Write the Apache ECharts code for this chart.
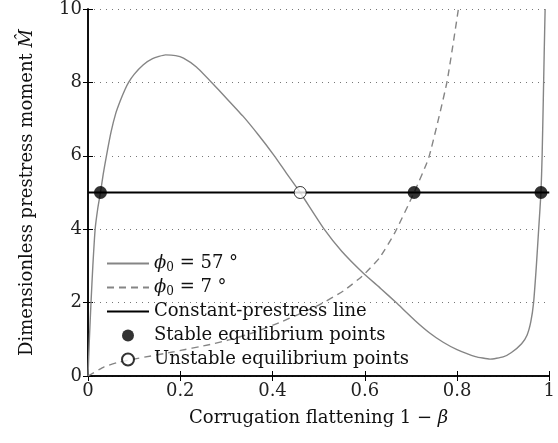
<!DOCTYPE html>
<html>
<head>
<meta charset="utf-8">
<script src="https://cdn.jsdelivr.net/npm/echarts@6/dist/echarts.min.js"></script>
<style>
	html, body { margin: 0; padding: 0; background: #fff; }
	#chart { width: 558px; height: 443px; }
</style>
</head>
<body>
<div id="chart"></div>
<script>
// phi0 = 57 deg curve
var solidX = [0, 0.003, 0.0065, 0.0105, 0.0155, 0.021, 0.027, 0.033, 0.040, 0.050, 0.060, 0.070, 0.080, 0.088, 0.100, 0.120, 0.140, 0.168, 0.190, 0.207, 0.235, 0.268, 0.300, 0.336, 0.370, 0.404, 0.430, 0.460, 0.512, 0.550, 0.597, 0.635, 0.668, 0.710, 0.740, 0.770, 0.800, 0.840, 0.8715, 0.900, 0.918, 0.940, 0.952, 0.960, 0.966, 0.972, 0.977, 0.982, 0.9845, 0.987, 0.989, 0.991];
var solidY = [0, 1, 2, 3, 4, 4.55, 5.0, 5.5, 6.0, 6.65, 7.15, 7.5, 7.8, 8.0, 8.22, 8.48, 8.65, 8.75, 8.73, 8.66, 8.42, 8.0, 7.57, 7.08, 6.56, 6.0, 5.53, 5.0, 4.0, 3.4, 2.8, 2.38, 2.0, 1.5, 1.18, 0.92, 0.72, 0.53, 0.46, 0.52, 0.64, 0.88, 1.12, 1.48, 2.0, 3.0, 4.0, 5.0, 6.0, 7.5, 8.8, 10];

// phi0 = 7 deg curve
var dashX = [0, 0.035, 0.065, 0.108, 0.186, 0.265, 0.308, 0.358, 0.420, 0.500, 0.554, 0.597, 0.632, 0.665, 0.707, 0.739, 0.778, 0.803];
var dashY = [0, 0.25, 0.37, 0.48, 0.66, 0.86, 0.99, 1.18, 1.48, 1.93, 2.32, 2.75, 3.22, 3.9, 5.0, 5.96, 8.0, 10];

// constant prestress
var constX = [0, 1];
var constY = [5, 5];

// equilibrium points
var stableX = [0.027, 0.707, 0.982];
var stableY = [5, 5, 5];
var unstableX = [0.46];
var unstableY = [5];

var seriesNames = ['phi57', 'phi7', 'Constant-prestress line', 'Stable equilibrium points', 'Unstable equilibrium points'];
var phiLabels = { phi57: '{i|ϕ}{s|0}{n| = 57 °}', phi7: '{i|ϕ}{s|0}{n| = 7 °}' };

function pairs(xs, ys)
{
	var out = [];
	for (var i = 0; i < xs.length; i++)
		out.push([xs[i], ys[i]]);
	return out;
}

// only DejaVu Serif actually renders as a serif face here
var font = 'DejaVu Serif';
var fs = 18;
var chart = echarts.init(document.getElementById('chart'));

var axisLine = { show: true, lineStyle: { color: '#000', width: 1.5 } };
var axisTick = { show: true, inside: true, length: 5, lineStyle: { color: '#000', width: 1 } };
var noSymbol = { opacity: 0, borderWidth: 0 };

var options =
{
	animation: false,
	textStyle: { fontFamily: font },
	grid: { left: 88, right: 3, top: 8, bottom: 67, containLabel: false },
	legend:
	{
		orient: 'vertical',
		left: 101,
		top: 248,
		itemWidth: 42,
		itemHeight: 12,
		itemGap: 3,
		data:
		[
			{ name: 'phi57', itemStyle: noSymbol },
			{ name: 'phi7', itemStyle: noSymbol },
			{ name: 'Constant-prestress line', itemStyle: noSymbol },
			{ name: 'Stable equilibrium points', icon: 'circle' },
			{ name: 'Unstable equilibrium points', icon: 'circle' }
		],
		formatter: function(name)
		{
			return phiLabels[name] || ('{n|' + name + '}');
		},
		textStyle:
		{
			fontFamily: font,
			fontSize: fs,
			lineHeight: 21,
			color: '#111',
			rich:
			{
				n: { fontFamily: font, fontSize: fs, color: '#111', lineHeight: 21 },
				i: { fontFamily: font, fontSize: fs, fontStyle: 'italic', color: '#111', lineHeight: 21 },
				s: { fontFamily: font, fontSize: 12, color: '#111', lineHeight: 21, verticalAlign: 'bottom', padding: [7, 0, 0, 0] }
			}
		}
	},
	xAxis:
	[
		{
			type: 'value',
			min: 0,
			max: 1,
			interval: 0.2,
			position: 'bottom',
			name: 'Corrugation flattening 1 − {i|β}',
			nameLocation: 'middle',
			nameGap: 33,
			nameTextStyle:
			{
				fontFamily: font, fontSize: fs, color: '#111',
				rich: { i: { fontFamily: font, fontSize: fs, fontStyle: 'italic', color: '#111' } }
			},
			axisLine: axisLine,
			axisTick: axisTick,
			axisLabel: { fontFamily: font, fontSize: fs, color: '#222', margin: 6, showMaxLabel: true },
			splitLine: { show: false }
		},
		{
			type: 'value',
			min: 0,
			max: 1,
			interval: 0.2,
			position: 'top',
			axisLine: axisLine,
			axisTick: axisTick,
			axisLabel: { show: false },
			splitLine: { show: false }
		}
	],
	yAxis:
	[
		{
			type: 'value',
			min: 0,
			max: 10,
			interval: 2,
			position: 'left',
			name: 'Dimensionless prestress moment {i|M̂}',
			nameLocation: 'middle',
			nameGap: 52,
			nameTextStyle:
			{
				fontFamily: font, fontSize: fs, color: '#111',
				rich: { i: { fontFamily: font, fontSize: fs, fontStyle: 'italic', color: '#111' } }
			},
			axisLine: axisLine,
			axisTick: axisTick,
			axisLabel: { fontFamily: font, fontSize: fs, color: '#222', margin: 6 },
			splitLine: { show: true, lineStyle: { color: '#777', width: 1, type: [1, 5] } }
		},
		{
			type: 'value',
			min: 0,
			max: 10,
			interval: 2,
			position: 'right',
			axisLine: axisLine,
			axisTick: axisTick,
			axisLabel: { show: false },
			splitLine: { show: false }
		}
	],
	series:
	[
		{
			name: seriesNames[0],
			type: 'line',
			data: pairs(solidX, solidY),
			smooth: 0.15,
			symbol: 'none',
			lineStyle: { color: '#858585', width: 1.4 },
			itemStyle: { color: '#858585' },
			z: 2
		},
		{
			name: seriesNames[1],
			type: 'line',
			data: pairs(dashX, dashY),
			smooth: 0.15,
			symbol: 'none',
			lineStyle: { color: '#858585', width: 1.4, type: [7, 5] },
			itemStyle: { color: '#858585' },
			z: 2
		},
		{
			name: seriesNames[2],
			type: 'line',
			data: pairs(constX, constY),
			symbol: 'none',
			lineStyle: { color: '#000', width: 1.8 },
			itemStyle: { color: '#000' },
			z: 3
		},
		{
			name: seriesNames[3],
			type: 'scatter',
			data: pairs(stableX, stableY),
			symbol: 'circle',
			symbolSize: 13,
			itemStyle: { color: '#000' },
			z: 5
		},
		{
			name: seriesNames[4],
			type: 'scatter',
			data: pairs(unstableX, unstableY),
			symbol: 'circle',
			symbolSize: 12,
			itemStyle: { color: '#fff', borderColor: '#000', borderWidth: 1 },
			z: 5
		}
	]
};

chart.setOption(options);
</script>
</body>
</html>
